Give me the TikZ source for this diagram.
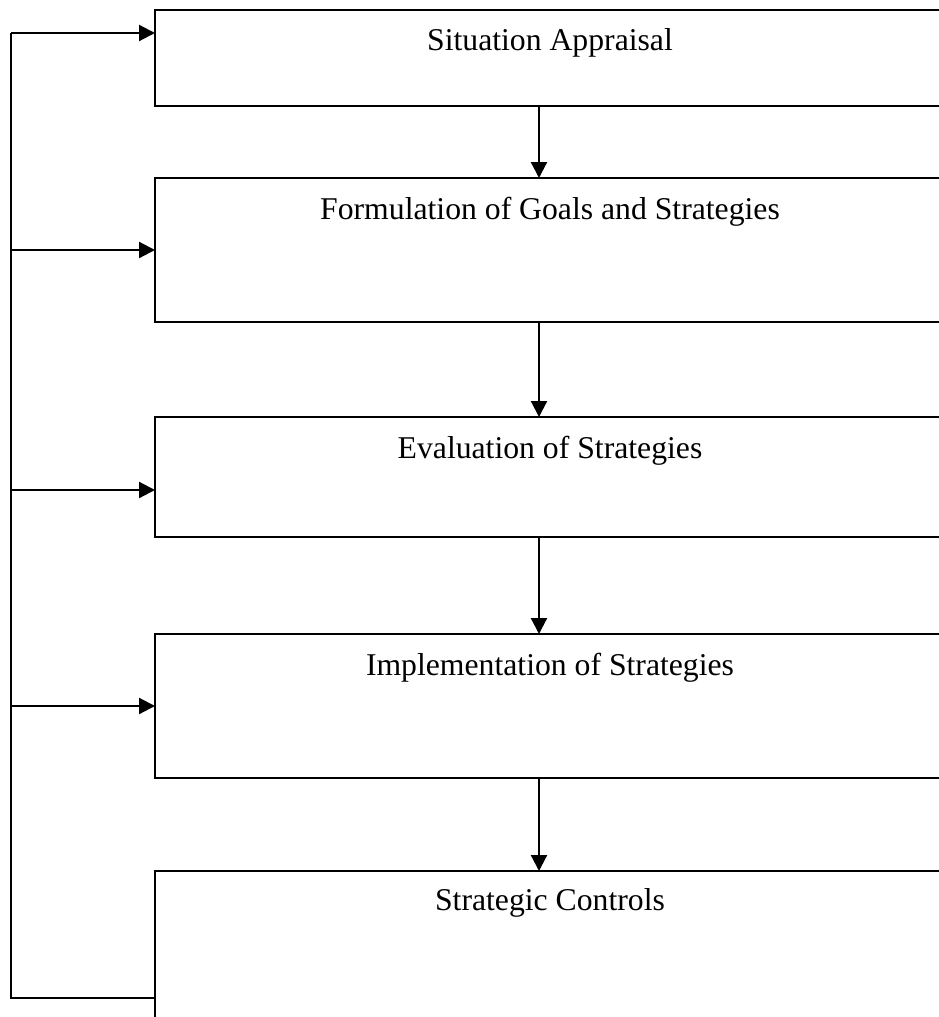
\documentclass[tikz,border=0pt]{standalone}
\usepackage{fontspec}
\setmainfont{Liberation Serif}
\usetikzlibrary{arrows.meta}
\begin{document}
\begin{tikzpicture}[x=1pt,y=-1pt,
  stagebox/.style={draw, line width=2pt, rectangle, outer sep=0pt, anchor=north west, minimum width=820pt, inner sep=0pt},
  stagetext/.style={anchor=base, inner sep=0pt, font=\fontsize{31.7}{38}\selectfont},
  arr/.style={line width=2.2pt, -{Triangle[length=16pt,width=16pt]}},
  ln/.style={line width=2.2pt}]
\clip (0,0) rectangle (939,1017);
\fill[white] (0,0) rectangle (939,1017);
\node[stagebox, minimum height=96pt]  (b1) at (155,10) {};
\node[stagebox, minimum height=144pt] (b2) at (155,178) {};
\node[stagebox, minimum height=120pt] (b3) at (155,417) {};
\node[stagebox, minimum height=144pt] (b4) at (155,634) {};
\node[stagebox, minimum height=200pt] (b5) at (155,871) {};
\node[stagetext] (l1) at (550,50) {Situation Appraisal};
\node[stagetext] (l2) at (550,219) {Formulation of Goals and Strategies};
\node[stagetext] (l3) at (550,458) {Evaluation of Strategies};
\node[stagetext] (l4) at (550,675) {Implementation of Strategies};
\node[stagetext] (l5) at (550,910) {Strategic Controls};
\coordinate (ax) at (539,0);
\draw[arr] (ax |- b1.south) -- (ax |- b2.north);
\draw[arr] (ax |- b2.south) -- (ax |- b3.north);
\draw[arr] (ax |- b3.south) -- (ax |- b4.north);
\draw[arr] (ax |- b4.south) -- (ax |- b5.north);
\coordinate (t1) at (11,33);
\coordinate (t2) at (11,250);
\coordinate (t3) at (11,490);
\coordinate (t4) at (11,706);
\coordinate (t5) at (11,998);
\draw[ln] (t5 -| b5.west) -- (t5) -- (t1);
\draw[arr] (t1) -- (t1 -| b1.west);
\draw[arr] (t2) -- (t2 -| b2.west);
\draw[arr] (t3) -- (t3 -| b3.west);
\draw[arr] (t4) -- (t4 -| b4.west);
\end{tikzpicture}
\end{document}
